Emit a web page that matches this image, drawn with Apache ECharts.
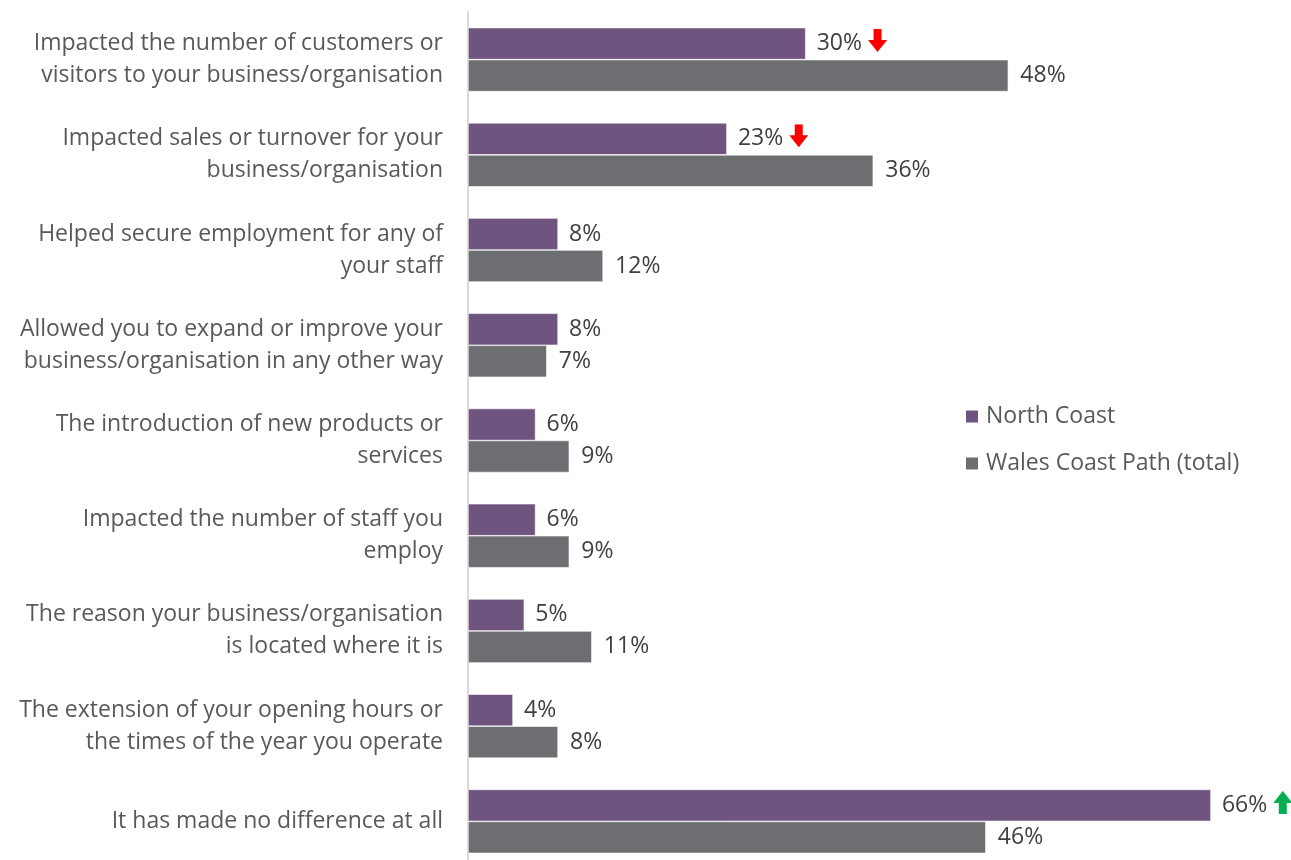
<!DOCTYPE html>
<html>
<head>
<meta charset="utf-8">
<style>
  html, body { margin: 0; padding: 0; background: #ffffff; }
  #chart { width: 1291px; height: 860px; }
</style>
<script src="https://cdn.jsdelivr.net/npm/echarts@6/dist/echarts.min.js"></script>
</head>
<body>
<div id="chart"></div>
<script>
// Impact of the coast path on businesses, North Coast vs whole path (% of respondents)
const categories = [
  'Impacted the number of customers or\nvisitors to your business/organisation',
  'Impacted sales or turnover for your\nbusiness/organisation',
  'Helped secure employment for any of\nyour staff',
  'Allowed you to expand or improve your\nbusiness/organisation in any other way',
  'The introduction of new products or\nservices',
  'Impacted the number of staff you\nemploy',
  'The reason your business/organisation\nis located where it is',
  'The extension of your opening hours or\nthe times of the year you operate',
  'It has made no difference at all'
];
const northCoast = [30, 23, 8, 8, 6, 6, 5, 4, 66];
const walesTotal = [48, 36, 12, 7, 9, 9, 11, 8, 46];
// significant change markers for North Coast: 'down', 'up' or ''
const northTrend = ['down', 'down', '', '', '', '', '', '', 'up'];
const seriesNames = ['North Coast', 'Wales Coast Path (total)'];

// arrow icon drawn in the upper part of a taller box so it sits a little above the text middle
const arrowSvg = (dir, color) => {
  const path = dir === 'down'
    ? 'M5.5 0 H13.5 V11 H19 L9.5 23 L0 11 H5.5 Z'
    : 'M9.5 0 L19 12 H13.5 V23 H5.5 V12 H0 Z';
  return 'data:image/svg+xml;charset=utf-8,' + encodeURIComponent(
    '<svg xmlns="http://www.w3.org/2000/svg" width="19" height="29" viewBox="0 0 19 29">' +
    '<path d="' + path + '" fill="' + color + '"/></svg>');
};

const FONT = '"Open Sans", Lato, sans-serif';
const FS = 23;
const chart = echarts.init(document.getElementById('chart'));

chart.setOption({
  animation: false,
  textStyle: { fontFamily: FONT },
  legend: {
    orient: 'vertical',
    left: 959,
    top: 400,
    itemWidth: 14,
    itemHeight: 14,
    itemGap: 24,
    icon: 'rect',
    data: seriesNames,
    textStyle: { fontFamily: FONT, fontSize: FS, color: '#595959', padding: [0, 0, 0, 2] }
  },
  grid: {
    left: 468, top: 12, width: 788, height: 857,
    containLabel: false,
    outerBoundsMode: 'none'
  },
  xAxis: {
    type: 'value',
    min: 0,
    max: 70,
    show: false
  },
  yAxis: {
    type: 'category',
    inverse: true,
    data: categories,
    axisLine: { show: true, lineStyle: { color: '#d9d9d9', width: 2 } },
    axisTick: { show: false },
    axisLabel: {
      margin: 25,
      fontFamily: FONT,
      fontSize: FS,
      lineHeight: 32,
      color: '#595959',
      align: 'right'
    }
  },
  series: [
    {
      name: seriesNames[0],
      type: 'bar',
      barWidth: 32,
      barGap: '0%',
      itemStyle: { color: '#6f5480', borderColor: '#ffffff', borderWidth: 0.6 },
      data: northCoast,
      label: {
        show: true,
        position: 'right',
        distance: 11,
        fontFamily: FONT,
        fontSize: FS,
        color: '#404040',
        formatter: p => {
          const t = northTrend[p.dataIndex];
          return t ? p.value + '%{gap|}{' + t + '|}' : p.value + '%';
        },
        rich: {
          gap: { width: 6 },
          down: { width: 19, height: 29, backgroundColor: { image: arrowSvg('down', '#ff0000') } },
          up: { width: 19, height: 29, backgroundColor: { image: arrowSvg('up', '#00b050') } }
        }
      }
    },
    {
      name: seriesNames[1],
      type: 'bar',
      barWidth: 32,
      barGap: '0%',
      itemStyle: { color: '#6d6e71', borderColor: '#ffffff', borderWidth: 0.6 },
      data: walesTotal,
      label: {
        show: true,
        position: 'right',
        distance: 12,
        fontFamily: FONT,
        fontSize: FS,
        color: '#404040',
        formatter: p => p.value + '%'
      }
    }
  ]
});
</script>
</body>
</html>
